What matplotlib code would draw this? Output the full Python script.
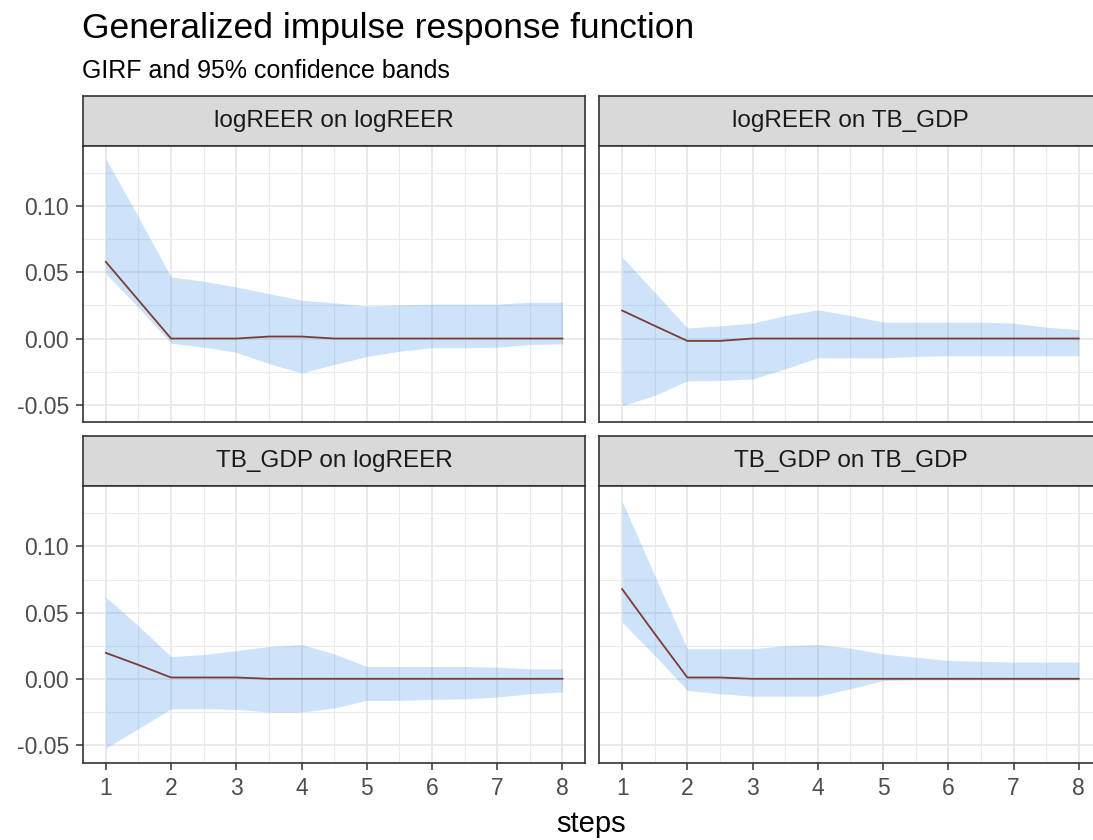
import numpy as np
import matplotlib.pyplot as plt
from matplotlib.ticker import MultipleLocator

plt.rcParams['font.family'] = ['Liberation Sans', 'DejaVu Sans']

# horizon (read at every half step)
steps = np.arange(1, 8.5, 0.5)

panel_titles = ["logREER on logREER", "logREER on TB_GDP",
                "TB_GDP on logREER", "TB_GDP on TB_GDP"]

# logREER on logREER
girf_rr = [0.058, 0.029, 0.0, 0.0, 0.0, 0.0015, 0.0015, 0.0, 0.0, 0.0, 0.0, 0.0, 0.0, 0.0, 0.0]
upper_rr = [0.136, 0.092, 0.0465, 0.0434, 0.039, 0.034, 0.029, 0.027, 0.0245, 0.0255, 0.026, 0.026, 0.026, 0.0275, 0.0275]
lower_rr = [0.049, 0.0235, -0.0035, -0.0066, -0.0104, -0.019, -0.026, -0.0197, -0.0136, -0.0096, -0.007, -0.007, -0.0066, -0.0045, -0.004]

# logREER on TB_GDP
girf_rt = [0.0212, 0.0096, -0.0018, -0.0018, 0.0, 0.0, 0.0, 0.0, 0.0, 0.0, 0.0, 0.0, 0.0, 0.0, 0.0]
upper_rt = [0.0616, 0.035, 0.008, 0.0096, 0.0116, 0.0174, 0.0217, 0.0174, 0.0124, 0.0124, 0.0124, 0.0124, 0.0116, 0.0086, 0.0066]
lower_rt = [-0.0508, -0.043, -0.032, -0.0318, -0.0306, -0.023, -0.0146, -0.0146, -0.0146, -0.0136, -0.013, -0.013, -0.013, -0.013, -0.013]

# TB_GDP on logREER
girf_tr = [0.0196, 0.0105, 0.001, 0.001, 0.001, 0.0, 0.0, 0.0, 0.0, 0.0, 0.0, 0.0, 0.0, 0.0, 0.0]
upper_tr = [0.0618, 0.040, 0.0168, 0.0183, 0.0213, 0.0244, 0.0259, 0.0188, 0.0093, 0.0093, 0.0093, 0.0093, 0.0088, 0.0075, 0.0075]
lower_tr = [-0.0523, -0.0377, -0.0226, -0.0226, -0.0231, -0.0251, -0.0251, -0.0221, -0.0163, -0.0163, -0.0156, -0.0151, -0.0138, -0.0113, -0.010]

# TB_GDP on TB_GDP
girf_tt = [0.0678, 0.034, 0.001, 0.001, 0.0, 0.0, 0.0, 0.0, 0.0, 0.0, 0.0, 0.0, 0.0, 0.0, 0.0]
upper_tt = [0.134, 0.078, 0.0226, 0.0226, 0.0226, 0.0251, 0.0259, 0.0231, 0.0188, 0.0163, 0.0138, 0.0133, 0.0126, 0.0126, 0.0126]
lower_tt = [0.0427, 0.0176, -0.0088, -0.0113, -0.0131, -0.0131, -0.0131, -0.0075, -0.0013, -0.0008, -0.0008, -0.0008, -0.0008, -0.0008, -0.0008]

girfs = [girf_rr, girf_rt, girf_tr, girf_tt]
uppers = [upper_rr, upper_rt, upper_tr, upper_tt]
lowers = [lower_rr, lower_rt, lower_tr, lower_tt]

W, H = 1093, 840
fig = plt.figure(figsize=(W / 100, H / 100), dpi=100)


def box(x0, y0, x1, y1):
    # pixel box (top-left origin) -> figure fraction
    return [x0 / W, 1 - y1 / H, (x1 - x0) / W, (y1 - y0) / H]


cols = [(83, 585.3), (599.3, 1101.6)]
rows = [(95.7, 146, 422.3), (436, 486, 762.7)]

for i in range(4):
    r, c = divmod(i, 2)
    x0, x1 = cols[c]
    s0, p0, p1 = rows[r]

    # strip
    sax = fig.add_axes(box(x0, s0, x1, p0))
    sax.set_facecolor('#D9D9D9')
    sax.set_xticks([])
    sax.set_yticks([])
    for sp in sax.spines.values():
        sp.set_color('#333333')
        sp.set_linewidth(1.2)
    sax.text(0.5, 0.5, panel_titles[i], transform=sax.transAxes,
             ha='center', va='center', fontsize=17.5, color='#1A1A1A')

    ax = fig.add_axes(box(x0, p0, x1, p1))
    ax.fill_between(steps, lowers[i], uppers[i], color='#2B8CE6', alpha=0.24, lw=0)
    ax.plot(steps, girfs[i], color='#7D3C35', lw=1.3)

    ax.set_xlim(0.65, 8.35)
    ax.set_ylim(-0.0634, 0.1457)
    ax.set_xticks(range(1, 9))
    ax.xaxis.set_minor_locator(MultipleLocator(0.5))
    ax.set_yticks([-0.05, 0.0, 0.05, 0.10])
    ax.yaxis.set_minor_locator(MultipleLocator(0.025))
    ax.grid(which='major', color='#E8E8E8', lw=1.3)
    ax.grid(which='minor', color='#EBEBEB', lw=0.8)
    ax.set_axisbelow(True)
    for sp in ax.spines.values():
        sp.set_color('#333333')
        sp.set_linewidth(1.2)
    ax.tick_params(which='minor', length=0)
    ax.tick_params(which='major', color='#333333', width=1.1, length=5,
                   labelsize=16.5, labelcolor='#4D4D4D', pad=5)
    if c == 0:
        ax.set_yticklabels(['-0.05', '0.00', '0.05', '0.10'])
    else:
        ax.tick_params(axis='y', which='major', length=0, labelleft=False)
    if r == 1:
        ax.set_xticklabels([str(k) for k in range(1, 9)])
    else:
        ax.tick_params(axis='x', which='major', length=0, labelbottom=False)

fig.text(82 / W, 1 - 38 / H, "Generalized impulse response function",
         fontsize=25.5, ha='left', va='baseline', color='black')
fig.text(82 / W, 1 - 78 / H, "GIRF and 95% confidence bands",
         fontsize=18, ha='left', va='baseline', color='black')
fig.text(591 / W, 1 - 832 / H, "steps", fontsize=21, ha='center',
         va='baseline', color='black')

fig.savefig('out.png', dpi=100)
